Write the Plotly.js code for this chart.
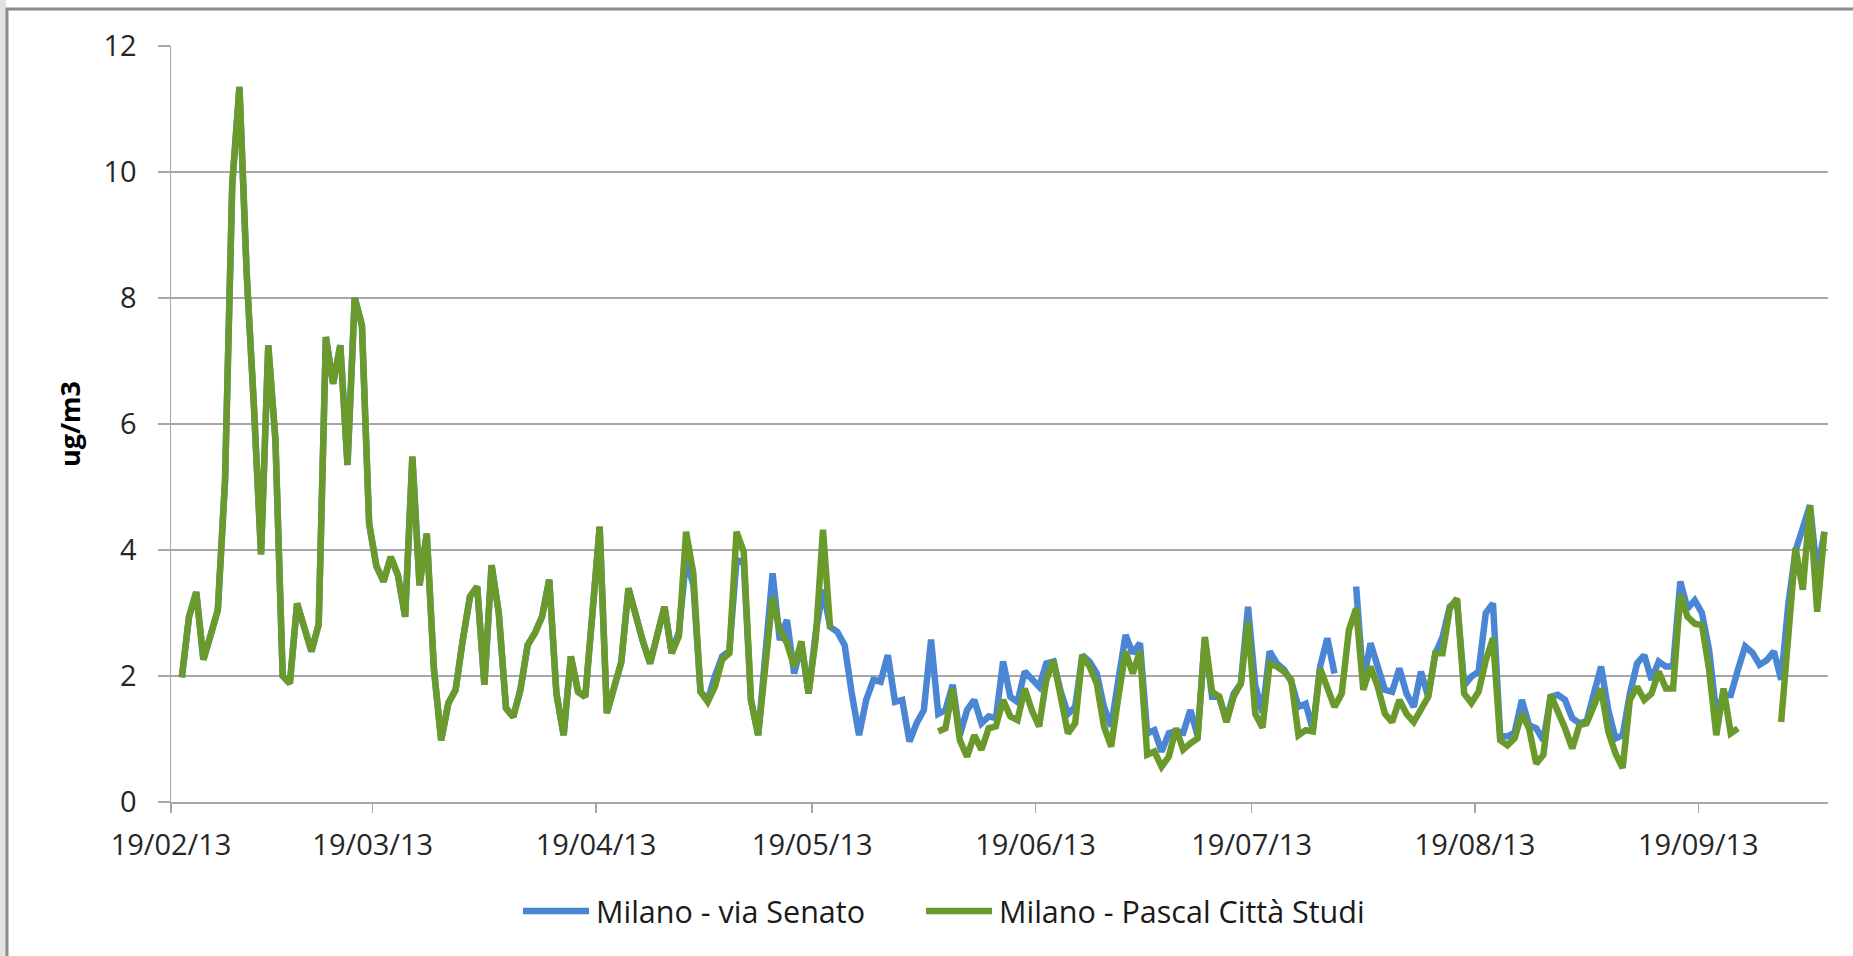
<!DOCTYPE html>
<html>
<head>
<meta charset="utf-8">
<script src="https://cdn.plot.ly/plotly-3.0.1.min.js"></script>
<style>
html,body{margin:0;padding:0;background:#ffffff;}
#chart{width:1853px;height:956px;}
</style>
</head>
<body>
<div id="chart"></div>
<script>
// ---- DATA (daily values, ug/m3) ----
const firstDay = '2013-02-20';
const tickDates = ['2013-02-19','2013-03-19','2013-04-19','2013-05-19','2013-06-19','2013-07-19','2013-08-19','2013-09-19'];
const yTicks = [0, 2, 4, 6, 8, 10, 12];
const seriesNames = ['Milano - via Senato', 'Milano - Pascal Città Studi'];

const viaSenato = [
 1.98,2.94,3.33,2.26,2.65,3.05,5.1,9.8,11.35,8.4,
 6.3,3.93,7.25,5.74,2.0,1.88,3.15,2.75,2.39,2.82,
 7.38,6.64,7.25,5.35,8.0,7.57,4.42,3.75,3.5,3.89,
 3.6,2.94,5.48,3.44,4.26,2.1,0.98,1.57,1.78,2.57,
 3.26,3.42,1.86,3.76,3.0,1.49,1.35,1.78,2.49,2.68,
 2.94,3.53,1.72,1.06,2.31,1.75,1.67,3.0,4.37,1.41,
 1.83,2.22,3.39,2.95,2.55,2.2,2.68,3.1,2.36,2.7,
 3.85,3.45,1.75,1.62,2.0,2.31,2.4,3.84,3.8,1.62,
 1.06,2.46,3.63,2.57,2.89,2.04,2.5,1.72,2.7,3.37,
 2.78,2.7,2.49,1.72,1.06,1.62,1.94,1.91,2.33,1.59,
 1.62,0.96,1.25,1.46,2.58,1.4,1.46,1.86,1.06,1.46,
 1.62,1.25,1.36,1.33,2.23,1.67,1.59,2.07,1.96,1.83,
 2.2,2.23,1.75,1.4,1.51,2.33,2.23,2.04,1.51,1.2,
 1.94,2.65,2.36,2.52,1.09,1.14,0.8,1.09,1.12,1.1,
 1.46,1.05,2.59,1.67,1.67,1.3,1.72,1.88,3.1,1.85,
 1.42,2.39,2.2,2.1,1.91,1.51,1.56,1.14,2.15,2.6,
 2.04,null,null,3.42,1.9,2.52,2.15,1.78,1.75,2.12,
 1.72,1.51,2.07,1.67,2.36,2.62,3.1,3.2,1.85,1.99,
 2.07,3.0,3.15,1.05,1.04,1.1,1.62,1.22,1.17,0.98,
 1.67,1.7,1.62,1.33,1.25,1.28,1.72,2.15,1.46,1.01,
 1.06,1.72,2.2,2.33,1.94,2.23,2.15,2.15,3.5,3.07,
 3.2,3.0,2.41,1.4,1.7,1.7,2.1,2.47,2.37,2.18,
 2.25,2.39,1.94,3.15,3.99,4.32,4.71,3.63,4.29
];

const pascalCittaStudi = [
 1.98,2.94,3.33,2.26,2.65,3.05,5.1,9.8,11.35,8.4,
 6.3,3.93,7.25,5.74,2.0,1.88,3.15,2.75,2.39,2.82,
 7.38,6.64,7.25,5.35,8.0,7.57,4.42,3.75,3.5,3.89,
 3.6,2.94,5.48,3.44,4.26,2.1,0.98,1.57,1.78,2.57,
 3.26,3.42,1.86,3.76,3.0,1.49,1.35,1.78,2.49,2.68,
 2.94,3.53,1.72,1.06,2.31,1.75,1.67,3.0,4.37,1.41,
 1.83,2.22,3.39,2.95,2.55,2.2,2.68,3.1,2.36,2.63,
 4.29,3.63,1.75,1.59,1.83,2.26,2.36,4.29,3.97,1.62,
 1.06,2.15,3.25,2.73,2.52,2.15,2.55,1.72,2.6,4.32,
 2.75,null,null,null,null,null,null,null,null,null,
 null,null,null,null,null,1.12,1.17,1.8,0.98,0.72,
 1.06,0.83,1.17,1.2,1.62,1.36,1.3,1.8,1.45,1.2,
 1.94,2.25,1.67,1.09,1.25,2.33,2.15,1.88,1.2,0.88,
 1.67,2.39,2.04,2.39,0.75,0.8,0.56,0.72,1.17,0.83,
 0.93,1.01,2.62,1.75,1.67,1.27,1.67,1.88,2.86,1.4,
 1.18,2.2,2.15,2.07,1.94,1.06,1.14,1.12,2.12,1.78,
 1.51,1.72,2.73,3.07,1.78,2.15,1.83,1.4,1.27,1.62,
 1.4,1.27,1.49,1.67,2.36,2.36,3.07,3.23,1.72,1.57,
 1.75,2.25,2.6,0.98,0.9,1.01,1.4,1.17,0.61,0.75,
 1.7,1.46,1.17,0.85,1.22,1.25,1.5,1.8,1.12,0.77,
 0.54,1.62,1.83,1.62,1.72,2.07,1.8,1.8,3.29,2.94,
 2.83,2.81,2.1,1.06,1.8,1.09,1.17,null,null,null,
 null,null,1.27,2.6,4.03,3.37,4.71,3.02,4.29
];

// ---- build consecutive daily dates (points sit at mid-day) ----
function dailyDates(start, n) {
  const out = [];
  const t0 = new Date(start + 'T12:00:00Z').getTime();
  for (let k = 0; k < n; k++) {
    const d = new Date(t0 + k * 86400000);
    out.push(d.toISOString().slice(0, 10) + ' 12:00');
  }
  return out;
}
const dates = dailyDates(firstDay, viaSenato.length);

const BLUE = '#4A86D4';
const GREEN = '#6A9A2C';
const GRID = '#A6A6A6';
const FONT = 'Open Sans, Liberation Sans, sans-serif';

const traces = [
  {x: dates, y: viaSenato, name: seriesNames[0], type: 'scatter', mode: 'lines',
   line: {color: BLUE, width: 6.5, shape: 'linear'}, connectgaps: false},
  {x: dates, y: pascalCittaStudi, name: seriesNames[1], type: 'scatter', mode: 'lines',
   line: {color: GREEN, width: 6.5, shape: 'linear'}, connectgaps: false}
];

const PL = 171, PB = 802; // plot-area left / bottom in page pixels (for pixel-sized decorations)
const legY = -(911 - PB);

const layout = {
  width: 1853, height: 956,
  margin: {l: PL, r: 25, t: 46, b: 956 - PB},
  paper_bgcolor: '#ffffff', plot_bgcolor: '#ffffff',
  showlegend: false,
  font: {family: FONT, color: '#262626'},
  xaxis: {
    type: 'date',
    range: ['2013-02-19', '2013-10-07'],
    tickvals: tickDates,
    tickformat: '%d/%m/%y',
    ticks: 'outside', ticklen: 9, tickwidth: 1.5, tickcolor: GRID,
    ticklabelstandoff: 8,
    showline: true, linecolor: GRID, linewidth: 1.5,
    showgrid: false, zeroline: false,
    tickfont: {family: FONT, size: 29, color: '#262626'}
  },
  yaxis: {
    range: [0, 12],
    tickvals: yTicks,
    ticks: 'outside', ticklen: 12, tickwidth: 1.5, tickcolor: GRID,
    ticklabelstandoff: 15,
    showline: true, linecolor: GRID, linewidth: 1.5,
    showgrid: true, gridcolor: GRID, gridwidth: 1.5,
    zeroline: false,
    tickfont: {family: FONT, size: 29, color: '#262626'},
    title: {text: 'ug/m3', font: {family: FONT, size: 27, color: '#000000', weight: 700}, standoff: 15}
  },
  shapes: [
    // light grey strip at the far left
    {type: 'rect', xref: 'paper', yref: 'paper', xsizemode: 'pixel', xanchor: 0, ysizemode: 'pixel', yanchor: 0,
     x0: -PL, x1: -PL + 6, y0: -300, y1: 1000, fillcolor: '#E2E2E2', line: {width: 0}},
    // chart-area frame
    {type: 'rect', xref: 'paper', yref: 'paper', xsizemode: 'pixel', xanchor: 0, ysizemode: 'pixel', yanchor: 0,
     x0: 7 - PL, x1: 1900 - PL, y0: -(1000 - PB), y1: PB - 9, fillcolor: 'rgba(0,0,0,0)', line: {color: '#8C8C8C', width: 3}},
    // legend keys
    {type: 'line', xref: 'paper', yref: 'paper', xsizemode: 'pixel', xanchor: 0, ysizemode: 'pixel', yanchor: 0,
     x0: 523 - PL, x1: 589 - PL, y0: legY, y1: legY, line: {color: BLUE, width: 6.5}},
    {type: 'line', xref: 'paper', yref: 'paper', xsizemode: 'pixel', xanchor: 0, ysizemode: 'pixel', yanchor: 0,
     x0: 926 - PL, x1: 992 - PL, y0: legY, y1: legY, line: {color: GREEN, width: 6.5}}
  ],
  annotations: [
    {xref: 'paper', yref: 'paper', x: 0, y: 0, xanchor: 'left', yanchor: 'middle',
     xshift: 594 - PL, yshift: legY, text: seriesNames[0], showarrow: false,
     font: {family: FONT, size: 30.5, color: '#1a1a1a'}},
    {xref: 'paper', yref: 'paper', x: 0, y: 0, xanchor: 'left', yanchor: 'middle',
     xshift: 997 - PL, yshift: legY, text: seriesNames[1], showarrow: false,
     font: {family: FONT, size: 30.5, color: '#1a1a1a'}}
  ]
};

Plotly.newPlot('chart', traces, layout, {displayModeBar: false, staticPlot: true});
</script>
</body>
</html>
